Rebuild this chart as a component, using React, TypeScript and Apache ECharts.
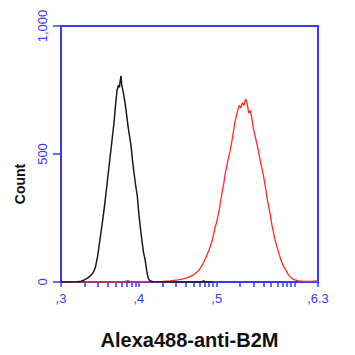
import React, { useEffect, useRef } from "react";
import * as echarts from "echarts";

// x values are log10 of fluorescence intensity (decades)
const blackX = [3.0, 3.1, 3.2, 3.26, 3.3, 3.34, 3.38, 3.41, 3.44, 3.47, 3.5, 3.53, 3.56, 3.59, 3.62, 3.65, 3.68, 3.7, 3.72, 3.74, 3.75, 3.76, 3.77, 3.78, 3.79, 3.8, 3.82, 3.84, 3.86, 3.88, 3.9, 3.92, 3.94, 3.96, 3.98, 4.0, 4.02, 4.04, 4.06, 4.08, 4.1, 4.12, 4.14, 4.18, 4.5, 4.8, 4.83, 4.86, 4.95];
const blackY = [0, 0, 1, 3, 8, 15, 25, 35, 55, 100, 165, 230, 300, 380, 460, 540, 620, 690, 750, 770, 760, 785, 805, 770, 755, 740, 705, 660, 610, 570, 530, 470, 420, 375, 335, 265, 210, 160, 115, 88, 45, 15, 5, 1, 0, 0, 4, 0, 0];

const redX = [3.0, 3.8, 3.86, 3.9, 4.3, 4.4, 4.5, 4.6, 4.65, 4.7, 4.75, 4.78, 4.82, 4.86, 4.9, 4.94, 4.98, 5.0, 5.03, 5.06, 5.09, 5.11, 5.14, 5.17, 5.2, 5.23, 5.26, 5.29, 5.31, 5.33, 5.35, 5.37, 5.39, 5.41, 5.43, 5.45, 5.47, 5.5, 5.53, 5.56, 5.59, 5.62, 5.65, 5.68, 5.71, 5.74, 5.77, 5.8, 5.83, 5.86, 5.89, 5.92, 5.96, 6.0, 6.05, 6.1, 6.2, 6.3];
const redY = [0, 0, 5, 0, 2, 4, 8, 14, 20, 28, 40, 50, 70, 95, 125, 160, 215, 235, 280, 335, 385, 425, 470, 510, 560, 620, 660, 690, 680, 700, 690, 715, 700, 660, 670, 640, 600, 560, 520, 470, 430, 380, 320, 275, 220, 175, 140, 110, 80, 60, 45, 28, 15, 8, 4, 3, 2, 4];

const xLabelValues = [3, 4, 5, 6.3];
const xLabelTexts = [",3", ",4", ",5", ",6.3"];
const yTickValues = [0, 500, 1000];
const yTickTexts = ["0", "500", "1,000"];

const BLUE = "#3a3af2";

export default function App() {
  const ref = useRef<HTMLDivElement>(null);
  useEffect(() => {
    if (!ref.current) return;
    const chart = echarts.init(ref.current, null, { renderer: "svg" });
    const tickPositions: number[] = [];
    for (let d = 3; d < 7; d++) {
      for (let m = 1; m < 10; m++) {
        const v = d + Math.log10(m);
        if (v <= 6.3 + 1e-9) tickPositions.push(v);
      }
    }
    tickPositions.push(6.3);
    chart.setOption({
      animation: false,
      backgroundColor: "#ffffff",
      grid: {
        left: 61,
        right: 37,
        top: 26,
        bottom: 70,
        show: true,
        borderColor: BLUE,
        borderWidth: 2,
        backgroundColor: "transparent",
      },
      xAxis: {
        type: "value",
        min: 3,
        max: 6.3,
        name: "Alexa488-anti-B2M",
        nameLocation: "middle",
        nameGap: 48,
        nameTextStyle: {
          color: "#111",
          fontSize: 20,
          fontWeight: "bold",
          fontFamily: "Liberation Sans, Arial, sans-serif",
        },
        axisLine: { show: true, lineStyle: { color: BLUE, width: 2 } },
        axisTick: {
          show: true,
          inside: false,
          length: 5,
          customValues: tickPositions,
          lineStyle: { color: BLUE, width: 1.5 },
        },
        axisLabel: {
          show: true,
          customValues: xLabelValues,
          color: BLUE,
          fontSize: 13,
          margin: 10,
          fontFamily: "Liberation Sans, Arial, sans-serif",
          formatter: (v: number) => {
            const i = xLabelValues.findIndex((x) => Math.abs(x - v) < 1e-6);
            return i >= 0 ? xLabelTexts[i] : "";
          },
        },
        splitLine: { show: false },
      },
      yAxis: {
        type: "value",
        min: 0,
        max: 1000,
        interval: 500,
        axisLine: { show: true, lineStyle: { color: BLUE, width: 2 } },
        axisTick: { show: true, length: 8, lineStyle: { color: BLUE, width: 1.5 } },
        axisLabel: {
          color: BLUE,
          fontSize: 13,
          rotate: 90,
          margin: 12,
          fontFamily: "Liberation Sans, Arial, sans-serif",
          formatter: (v: number) => {
            const i = yTickValues.indexOf(v);
            return i >= 0 ? yTickTexts[i] : "";
          },
        },
        splitLine: { show: false },
      },
      graphic: [
        {
          type: "text",
          x: 20,
          y: 184,
          rotation: Math.PI / 2,
          style: {
            text: "Count",
            fill: "#111",
            font: "bold 14px Liberation Sans, Arial, sans-serif",
            align: "center",
            verticalAlign: "middle",
          },
        },
      ],
      series: [
        {
          type: "line",
          data: redX.map((x, i) => [x, redY[i]]),
          showSymbol: false,
          lineStyle: { color: "#ff2a2a", width: 1.3 },
          z: 2,
        },
        {
          type: "line",
          data: blackX.map((x, i) => [x, blackY[i]]),
          showSymbol: false,
          lineStyle: { color: "#1a1a1a", width: 1.5 },
          z: 3,
        },
      ],
    });
    return () => chart.dispose();
  }, []);
  return <div ref={ref} style={{ width: 355, height: 355, margin: -8 }} />;
}
